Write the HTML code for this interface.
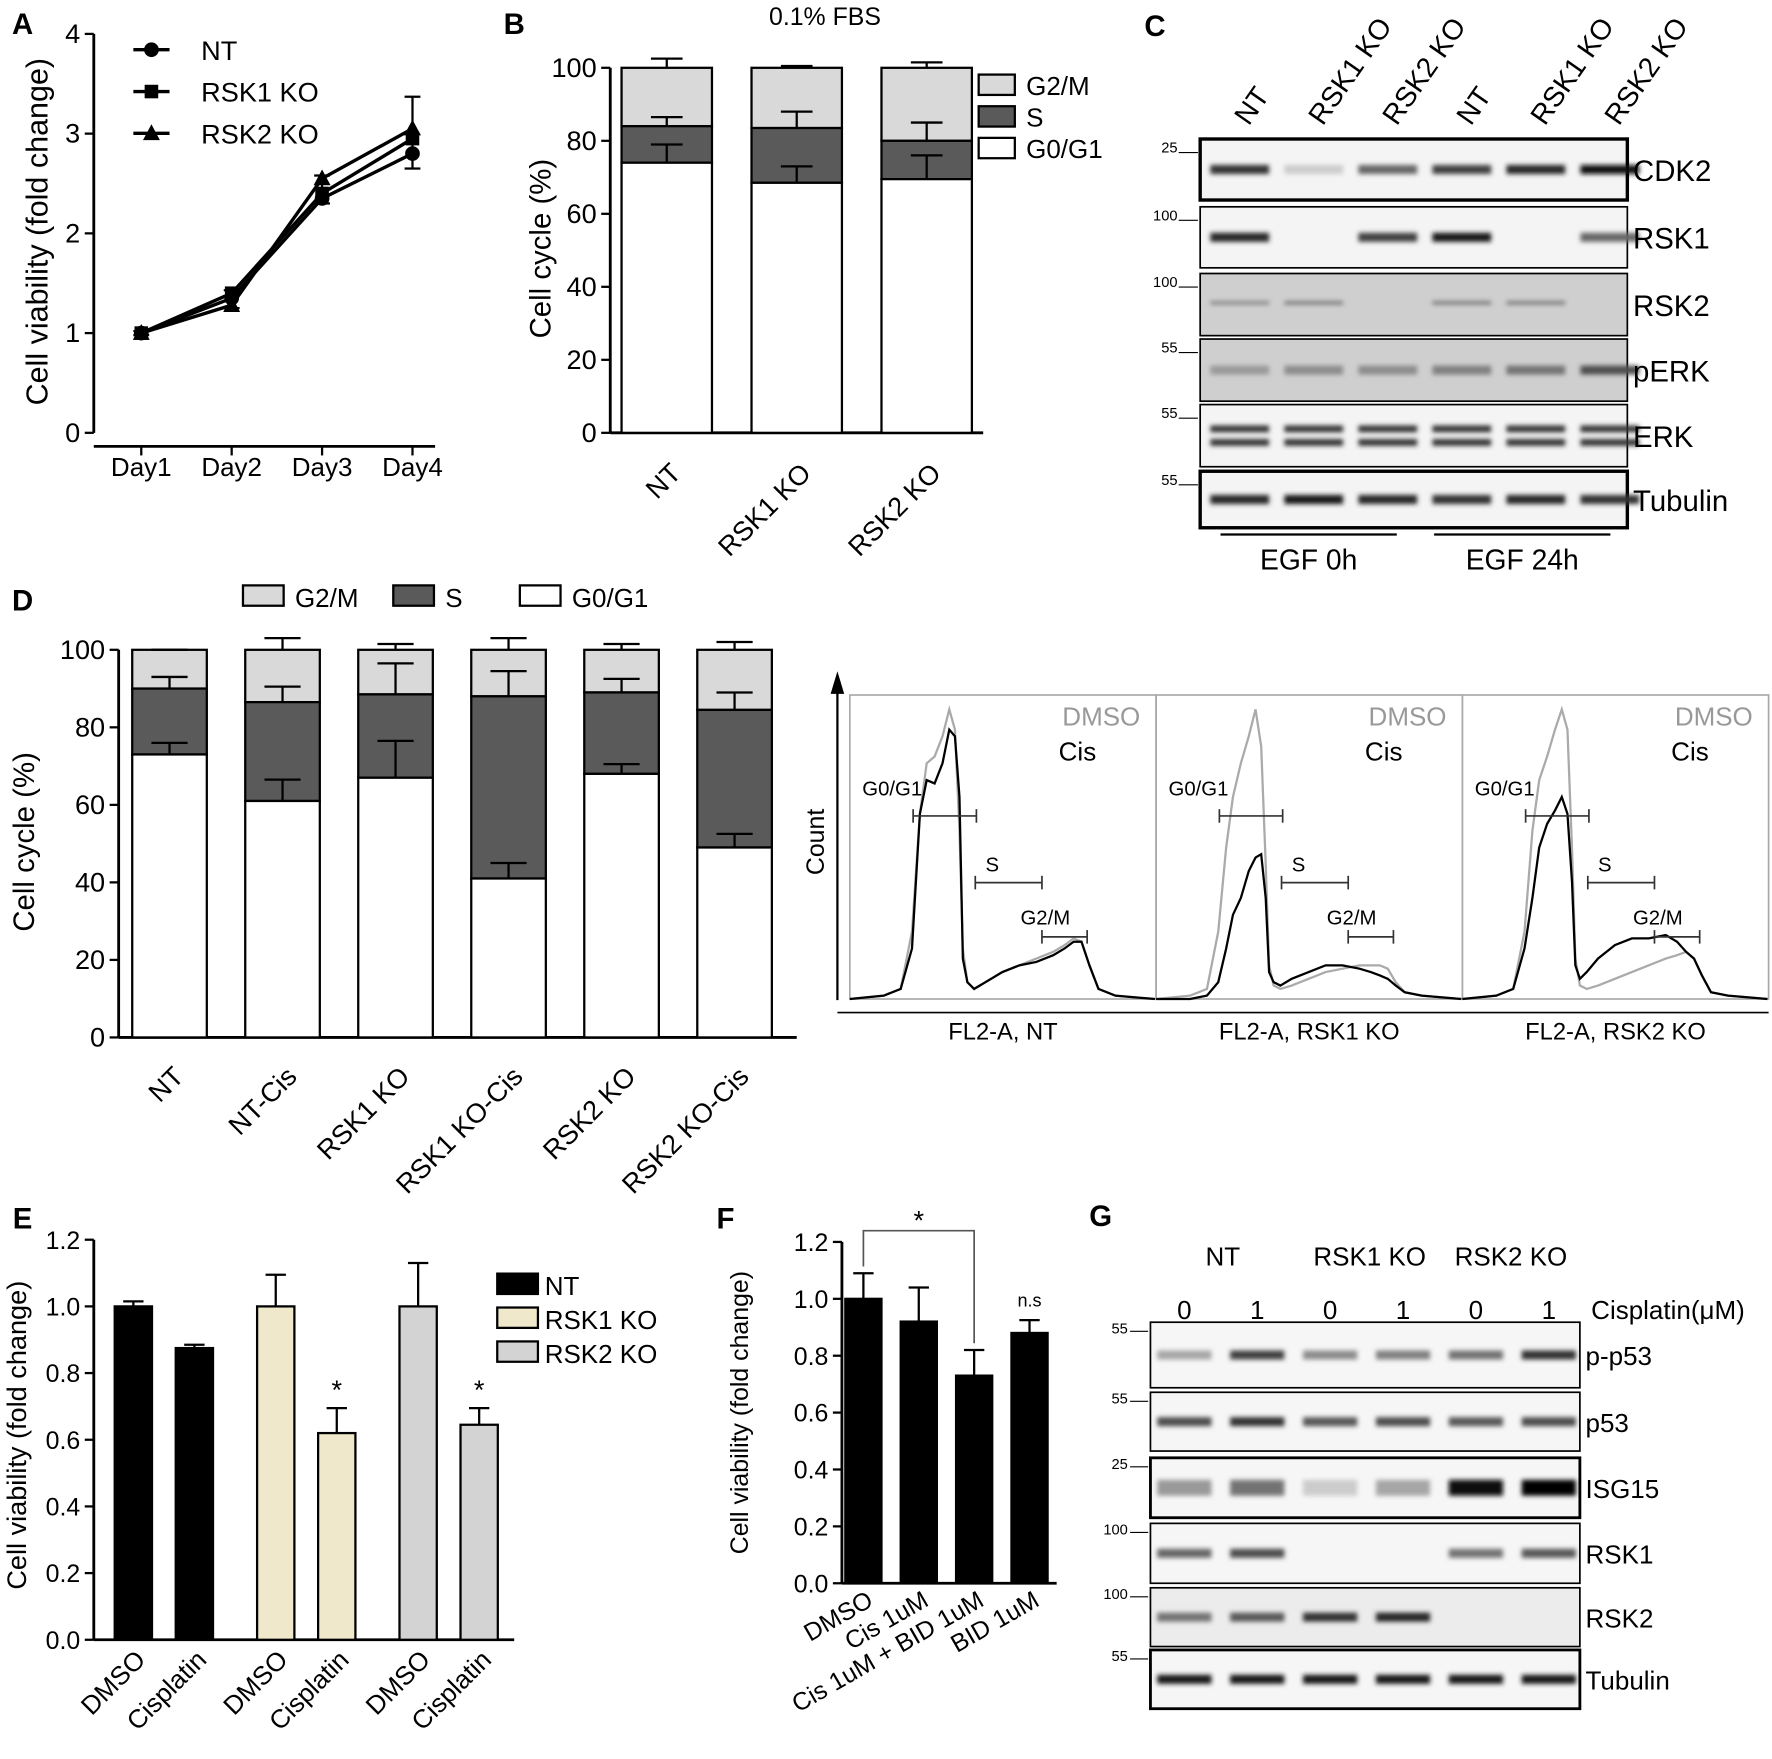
<!DOCTYPE html>
<html><head><meta charset="utf-8">
<style>
html,body{margin:0;padding:0;background:#fff;}
svg{display:block;font-family:"Liberation Sans",Arial,sans-serif;}
</style></head>
<body>
<svg id="fig" xmlns="http://www.w3.org/2000/svg" width="1772" height="1759" viewBox="0 0 1568 1556.5">
<defs>
<filter id="blur2" x="-50%" y="-200%" width="200%" height="500%"><feGaussianBlur stdDeviation="2.2"/></filter>
</defs>
</svg>
<script>
// ---------- DATA ----------
const daysA = ["Day1","Day2","Day3","Day4"];
const aNT = [1.0, 1.35, 2.35, 2.8];
const aRSK1 = [1.0, 1.4, 2.4, 2.95];
const aRSK2 = [1.0, 1.28, 2.55, 3.05];
const aErrHi = [1.02, 1.43, 2.58, 3.37];
const aErrLo = [0.98, 1.25, 2.3, 2.65];
const aTicks = [0,1,2,3,4];

const bCats = ["NT","RSK1 KO","RSK2 KO"];
const bG1 = [74, 68.5, 69.5];
const bS = [84, 83.5, 80];
const bG2 = [100, 100, 100];
const bG1Err = [79, 73, 76];
const bSErr = [86.5, 88, 85];
const bG2Err = [102.5, 100.5, 101.5];
const pctTicks = [0,20,40,60,80,100];

const dCats = ["NT","NT-Cis","RSK1 KO","RSK1 KO-Cis","RSK2 KO","RSK2 KO-Cis"];
const dG1 = [73, 61, 67, 41, 68, 49];
const dS = [90, 86.5, 88.5, 88, 89, 84.5];
const dG2 = [100, 100, 100, 100, 100, 100];
const dG1Err = [76, 66.5, 76.5, 45, 70.5, 52.5];
const dSErr = [93, 90.5, 96.5, 94.5, 92.5, 89];
const dG2Err = [100, 103, 101.5, 103, 101.5, 102];

const eGroups = ["NT","RSK1 KO","RSK2 KO"];
const eDMSO = [1.0, 1.0, 1.0];
const eCis = [0.875, 0.62, 0.645];
const eDMSOErr = [1.015, 1.095, 1.13];
const eCisErr = [0.885, 0.695, 0.695];
const vTicks = [0,0.2,0.4,0.6,0.8,1.0,1.2];

const fCats = ["DMSO","Cis 1uM","Cis 1uM + BID 1uM","BID 1uM"];
const fVals = [1.0, 0.92, 0.73, 0.88];
const fErr = [1.09, 1.04, 0.82, 0.925];

const flowX = [0,30,45,55,62,68,75,82,88,93,97,100,104,110,120,135,150,165,180,190,198,205,212,220,235,270];
const flowDMSO = [[0,1,3,20,55,70,72,78,86,80,50,15,5,3,5,8,10,12,14,16,18,17,10,3,1,0],
                  [0,1,3,20,45,60,70,78,86,75,40,10,4,3,4,6,8,9,10,10,10,9,5,2,1,0],
                  [0,1,3,20,50,65,72,80,86,80,45,12,4,3,4,6,8,10,12,13,14,12,7,2,1,0]];
const flowCis  = [[0,1,3,15,55,65,64,70,80,78,60,12,5,3,5,8,10,11,13,15,17,17,10,3,1,0],
                  [0,0,1,5,15,25,30,38,42,43,30,8,5,4,6,8,10,10,9,8,7,6,4,2,1,0],
                  [0,1,3,15,30,45,52,56,60,55,35,10,6,8,12,16,18,18,19,17,14,12,7,2,1,0]];
const flowLabels = ["FL2-A, NT","FL2-A, RSK1 KO","FL2-A, RSK2 KO"];

const cRows = ["CDK2","RSK1","RSK2","pERK","ERK","Tubulin"];
const cBands = [[0.8,0.2,0.6,0.75,0.85,0.95],[0.85,0,0.75,0.9,0,0.6],[0.5,0.55,0,0.55,0.55,0],[0.4,0.45,0.45,0.5,0.55,0.7],[0.8,0.8,0.8,0.8,0.8,0.8],[0.85,0.9,0.85,0.8,0.85,0.8]];
const cMW = ["25","100","100","55","55","55"];
const cLanes = ["NT","RSK1 KO","RSK2 KO","NT","RSK1 KO","RSK2 KO"];

const gRows = ["p-p53","p53","ISG15","RSK1","RSK2","Tubulin"];
const gBands = [[0.35,0.75,0.45,0.5,0.55,0.8],[0.7,0.8,0.65,0.7,0.65,0.7],[0.4,0.55,0.2,0.35,0.95,1.0],[0.6,0.7,0,0,0.55,0.65],[0.55,0.65,0.8,0.85,0,0],[0.9,0.9,0.9,0.9,0.9,0.9]];
const gMW = ["55","55","25","100","100","55"];
const gDose = ["0","1","0","1","0","1"];

// ---------- HELPERS ----------
const svg = document.getElementById('fig');
const NS = "http://www.w3.org/2000/svg";
function mk(tag, attrs, name, parent){
  const e = document.createElementNS(NS, tag);
  for (const k in attrs) e.setAttribute(k, attrs[k]);
  
  
  (parent||svg).appendChild(e);
  return e;
}
function txt(x,y,s,size,name,opts){
  opts = opts||{};
  const t = mk('text',{x:x,y:y,'font-size':size,fill:opts.fill||'#000','text-anchor':opts.anchor||'middle','font-weight':opts.bold?'bold':'normal'},name);
  if (opts.rot!==undefined) t.setAttribute('transform','rotate('+opts.rot+' '+x+' '+y+')');
  t.textContent = s;
  return t;
}
function line(x1,y1,x2,y2,name,w,col){
  return mk('line',{x1:x1,y1:y1,x2:x2,y2:y2,stroke:col||'#000','stroke-width':w||2},name);
}
function rect(x,y,w,h,fill,name,sw){
  return mk('rect',{x:x,y:y,width:w,height:h,fill:fill,stroke:'#000','stroke-width':sw===undefined?2:sw},name);
}
function errBar(x,y1,y2,cap,name){
  line(x,y1,x,y2,name);
  line(x-cap,y2,x+cap,y2,name+'-cap');
}
function yAxis(x,ymap,ticks,fmt,size,name){
  line(x,ymap(ticks[0]),x,ymap(ticks[ticks.length-1]),name,2.5);
  ticks.forEach(t=>{
    line(x-8,ymap(t),x,ymap(t),name+'-tick',2);
    txt(x-12,ymap(t)+8,fmt(t),size,name+'-label',{anchor:'end'});
  });
}

// ---------- PANEL A ----------
txt(20,30,"A",26,"panel-label-a",{bold:true});
const aY = v => 383 - v*88.25;
const aX = i => 125 + i*80;
yAxis(83,aY,aTicks,v=>v,24,"a-y-axis");
line(83,395,385,395,"a-x-axis",2.5);
daysA.forEach((d,i)=>{line(aX(i),395,aX(i),403,"a-x-tick");txt(aX(i),421,d,23,"a-x-label");});
txt(42,205,"Cell viability (fold change)",27,"a-y-axis-title",{rot:-90});
daysA.forEach((d,i)=>errBar(aX(i),aY(aErrLo[i]),aY(aErrHi[i]),7,"a-error-bar"));
daysA.forEach((d,i)=>line(aX(i)-7,aY(aErrLo[i]),aX(i)+7,aY(aErrLo[i]),"a-error-cap-low"));
function aSeries(vals,marker,name){
  mk('polyline',{points:vals.map((v,i)=>aX(i)+','+aY(v)).join(' '),fill:'none',stroke:'#000','stroke-width':3},name+'-line');
  vals.forEach((v,i)=>drawMarker(aX(i),aY(v),marker,name+'-point'));
}
function drawMarker(x,y,m,name){
  if(m==='c') mk('circle',{cx:x,cy:y,r:6.5,fill:'#000'},name);
  else if(m==='s') mk('rect',{x:x-6,y:y-6,width:12,height:12,fill:'#000'},name);
  else mk('polygon',{points:(x)+','+(y-8)+' '+(x-7.5)+','+(y+6)+' '+(x+7.5)+','+(y+6),fill:'#000'},name);
}
aSeries(aNT,'c','a-nt');aSeries(aRSK1,'s','a-rsk1');aSeries(aRSK2,'t','a-rsk2');
[["NT",'c'],["RSK1 KO",'s'],["RSK2 KO",'t']].forEach((l,i)=>{
  const y=44+i*37;
  line(118,y,150,y,"a-legend-line",3);
  drawMarker(134,y,l[1],"a-legend-marker");
  txt(178,y+9,l[0],24,"a-legend-entry",{anchor:'start'});
});

// ---------- PANEL B ----------
txt(455,30,"B",26,"panel-label-b",{bold:true});
txt(730,22,"0.1% FBS",22,"b-title");
const bY = v => 383 - v*3.23;
const bX = i => 590 + i*115;
yAxis(540,bY,pctTicks,v=>v,24,"b-y-axis");
line(540,383,870,383,"b-x-axis",2.5);
txt(487,220,"Cell cycle (%)",26,"b-y-axis-title",{rot:-90});
bCats.forEach((c,i)=>{
  const x=bX(i),w=80;
  rect(x-w/2,bY(bG2[i]),w,bY(bS[i])-bY(bG2[i]),'#d9d9d9',"b-bar-g2m");
  rect(x-w/2,bY(bS[i]),w,bY(bG1[i])-bY(bS[i]),'#5a5a5a',"b-bar-s");
  rect(x-w/2,bY(bG1[i]),w,bY(0)-bY(bG1[i]),'#fff',"b-bar-g0g1");
  errBar(x,bY(bG2[i]),bY(bG2Err[i]),14,"b-error-g2m");
  errBar(x,bY(bS[i]),bY(bSErr[i]),14,"b-error-s");
  errBar(x,bY(bG1[i]),bY(bG1Err[i]),14,"b-error-g0g1");
  txt(x+14,420,c,24,"b-x-label",{anchor:'end',rot:-45});
});
[["G2/M",'#d9d9d9'],["S",'#5a5a5a'],["G0/G1",'#fff']].forEach((l,i)=>{
  const y=66+i*28;
  rect(866,y,32,18,l[1],"b-legend-swatch");
  txt(908,y+18,l[0],23,"b-legend-entry",{anchor:'start'});
});

// ---------- PANEL C (blot) ----------
txt(1022,32,"C",26,"panel-label-c",{bold:true});
const cLaneX = i => 1097 + i*65.5;
const cRowY = [123,183,242,300,358,417];
const cRowH = [54,54,55,55,55,50];
cLanes.forEach((l,i)=>txt(cLaneX(i)+8,112,l,25,"c-lane-label",{anchor:'start',rot:-55}));
cRows.forEach((r,ri)=>{
  const y=cRowY[ri],h=cRowH[ri];
  const bg = ri===2||ri===3?'#cfcfcf':'#f4f4f4';
  rect(1062,y,378,h,bg,"c-blot-"+r.toLowerCase(),ri===0||ri===5?3:1.5);
  cBands[ri].forEach((v,li)=>{
    if(v<=0) return;
    const g=Math.round(255*(1-v));
    const col='rgb('+g+','+g+','+g+')';
    if(ri===4){
      mk('rect',{x:cLaneX(li)-26,y:y+h/2-9,width:52,height:6,fill:col,filter:'url(#blur2)'},"c-band");
      mk('rect',{x:cLaneX(li)-26,y:y+h/2+3,width:52,height:6,fill:col,filter:'url(#blur2)'},"c-band");
    } else {
      mk('rect',{x:cLaneX(li)-26,y:y+h/2-(ri===2?3:4),width:52,height:ri===2?3:8,fill:col,filter:'url(#blur2)'},"c-band");
    }
  });
  line(1043,y+12,1060,y+12,"c-mw-tick",1);
  txt(1042,y+12,cMW[ri],13,"c-mw-label",{anchor:'end'});
  txt(1445,y+h/2+10,r,26,"c-row-label",{anchor:'start'});
});
line(1080,473,1236,473,"c-group-line",2);
line(1269,473,1425,473,"c-group-line",2);
txt(1158,504,"EGF 0h",25,"c-group-label");
txt(1347,504,"EGF 24h",25,"c-group-label");

// ---------- PANEL D ----------
txt(20,540,"D",26,"panel-label-d",{bold:true});
const dY = v => 918 - v*3.43;
const dX = i => 150 + i*100;
yAxis(105,dY,pctTicks,v=>v,24,"d-y-axis");
line(105,918,705,918,"d-x-axis",2.5);
txt(30,745,"Cell cycle (%)",26,"d-y-axis-title",{rot:-90});
dCats.forEach((c,i)=>{
  const x=dX(i),w=66;
  rect(x-w/2,dY(dG2[i]),w,dY(dS[i])-dY(dG2[i]),'#d9d9d9',"d-bar-g2m");
  rect(x-w/2,dY(dS[i]),w,dY(dG1[i])-dY(dS[i]),'#5a5a5a',"d-bar-s");
  rect(x-w/2,dY(dG1[i]),w,dY(0)-dY(dG1[i]),'#fff',"d-bar-g0g1");
  errBar(x,dY(dG2[i]),dY(dG2Err[i]),16,"d-error-g2m");
  errBar(x,dY(dS[i]),dY(dSErr[i]),16,"d-error-s");
  errBar(x,dY(dG1[i]),dY(dG1Err[i]),16,"d-error-g0g1");
  txt(x+14,954,c,24,"d-x-label",{anchor:'end',rot:-45});
});
[["G2/M",'#d9d9d9',215],["S",'#5a5a5a',348],["G0/G1",'#fff',460]].forEach(l=>{
  rect(l[2],518,36,18,l[1],"d-legend-swatch");
  txt(l[2]+46,537,l[0],23,"d-legend-entry",{anchor:'start'});
});

// ---------- FLOW HISTOGRAMS ----------
mk('line',{x1:741,y1:885,x2:741,y2:608,stroke:'#000','stroke-width':2},"flow-y-axis");
mk('polygon',{points:'741,594 735,614 747,614',fill:'#000'},"flow-y-arrow");
txt(729,745,"Count",22,"flow-y-axis-title",{rot:-90});
line(741,896,1565,896,"flow-x-axis",1.5);
const fx0=[752,1023,1294], fw=271, fBase=884, fTop=615;
flowLabels.forEach((lab,p)=>{
  const x0=fx0[p];
  mk('rect',{x:x0,y:fTop,width:fw,height:fBase-fTop,fill:'none',stroke:'#aaa','stroke-width':1.5},"flow-panel-frame");
  const ptsD=flowX.map((xv,i)=>(x0+xv)+','+(fBase-flowDMSO[p][i]*2.98)).join(' ');
  const ptsC=flowX.map((xv,i)=>(x0+xv)+','+(fBase-flowCis[p][i]*2.98)).join(' ');
  mk('polyline',{points:ptsD,fill:'none',stroke:'#aaa','stroke-width':2},"flow-dmso-curve");
  mk('polyline',{points:ptsC,fill:'none',stroke:'#000','stroke-width':2},"flow-cis-curve");
  txt(x0+257,642,"DMSO",23,"flow-legend-dmso",{anchor:'end',fill:'#999'});
  txt(x0+218,673,"Cis",23,"flow-legend-cis",{anchor:'end'});
  [[56,112,722,"G0/G1",11,704],[111,170,781,"S",120,771],[170,210,829,"G2/M",151,818]].forEach(g=>{
    line(x0+g[0],g[2],x0+g[1],g[2],"flow-gate",1.5,'#333');
    line(x0+g[0],g[2]-6,x0+g[0],g[2]+6,"flow-gate-end",1.5,'#333');
    line(x0+g[1],g[2]-6,x0+g[1],g[2]+6,"flow-gate-end",1.5,'#333');
    txt(x0+g[4],g[5],g[3],18,"flow-gate-label",{anchor:'start'});
  });
  txt(x0+fw/2,920,lab,21,"flow-x-label");
});

// ---------- PANEL E ----------
txt(20,1087,"E",26,"panel-label-e",{bold:true});
const eY = v => 1451 - v*295;
const eColors=['#000','#efe8cb','#d3d3d3'];
const eX = i => 118 + i*126;
yAxis(83,eY,vTicks,v=>v.toFixed(1),22,"e-y-axis");
line(83,1451,455,1451,"e-x-axis",2.5);
txt(23,1270,"Cell viability (fold change)",24,"e-y-axis-title",{rot:-90});
eGroups.forEach((g,i)=>{
  const x1=eX(i), x2=eX(i)+54, w=33;
  rect(x1-w/2,eY(eDMSO[i]),w,eY(0)-eY(eDMSO[i]),eColors[i],"e-bar-dmso-"+i);
  rect(x2-w/2,eY(eCis[i]),w,eY(0)-eY(eCis[i]),eColors[i],"e-bar-cisplatin-"+i);
  errBar(x1,eY(eDMSO[i]),eY(eDMSOErr[i]),9,"e-error-dmso");
  errBar(x2,eY(eCis[i]),eY(eCisErr[i]),9,"e-error-cisplatin");
  if(i>0) txt(x2,eY(eCisErr[i])-8,"*",24,"e-significance");
  txt(x1+12,1470,"DMSO",23,"e-x-label",{anchor:'end',rot:-45});
  txt(x2+12,1470,"Cisplatin",23,"e-x-label",{anchor:'end',rot:-45});
});
eGroups.forEach((g,i)=>{
  const y=1127+i*30;
  rect(440,y,36,18,eColors[i],"e-legend-swatch");
  txt(482,y+19,g,23,"e-legend-entry",{anchor:'start'});
});

// ---------- PANEL F ----------
txt(642,1087,"F",26,"panel-label-f",{bold:true});
const fY = v => 1401 - v*251.7;
const fX = i => 764 + i*49;
yAxis(745,fY,vTicks,v=>v.toFixed(1),22,"f-y-axis");
line(745,1401,935,1401,"f-x-axis",2.5);
txt(662,1250,"Cell viability (fold change)",22,"f-y-axis-title",{rot:-90});
fCats.forEach((c,i)=>{
  const x=fX(i),w=32;
  rect(x-w/2,fY(fVals[i]),w,fY(0)-fY(fVals[i]),'#000',"f-bar");
  errBar(x,fY(fVals[i]),fY(fErr[i]),9,"f-error");
  txt(x+10,1420,c,22,"f-x-label",{anchor:'end',rot:-30});
});
mk('polyline',{points:fX(0)+','+(fY(fErr[0])-6)+' '+fX(0)+','+1089+' '+fX(2)+','+1089+' '+fX(2)+','+(fY(fErr[2])-6),fill:'none',stroke:'#555','stroke-width':1.5},"f-significance-bracket");
txt((fX(0)+fX(2))/2,1088,"*",24,"f-significance");
txt(fX(3),fY(fErr[3])-12,"n.s",16,"f-ns-label");

// ---------- PANEL G (blot) ----------
txt(974,1085,"G",26,"panel-label-g",{bold:true});
const gLaneX = i => 1048 + i*64.5;
const gRowY=[1170,1232,1290,1348,1405,1460];
const gRowH=[58,52,53,53,52,52];
txt(1082,1120,"NT",23,"g-group-label");
txt(1212,1120,"RSK1 KO",23,"g-group-label");
txt(1337,1120,"RSK2 KO",23,"g-group-label");
gDose.forEach((d,i)=>txt(gLaneX(i),1167,d,23,"g-dose-label"));
txt(1408,1167,"Cisplatin(μM)",23,"g-dose-title",{anchor:'start'});
gRows.forEach((r,ri)=>{
  const y=gRowY[ri],h=gRowH[ri];
  rect(1018,y,380,h,ri===4?'#ececec':'#f6f6f6',"g-blot-"+r.toLowerCase(),ri===2||ri===5?2.5:1.5);
  gBands[ri].forEach((v,li)=>{
    if(v<=0) return;
    const g=Math.round(255*(1-v));
    mk('rect',{x:gLaneX(li)-24,y:y+h/2-(ri===2?7:4),width:48,height:ri===2?14:8,fill:'rgb('+g+','+g+','+g+')',filter:'url(#blur2)'},"g-band");
  });
  line(1000,y+8,1016,y+8,"g-mw-tick",1);
  txt(998,y+10,gMW[ri],13,"g-mw-label",{anchor:'end'});
  txt(1403,y+h/2+9,r,23,"g-row-label",{anchor:'start'});
});
</script>
</body></html>
